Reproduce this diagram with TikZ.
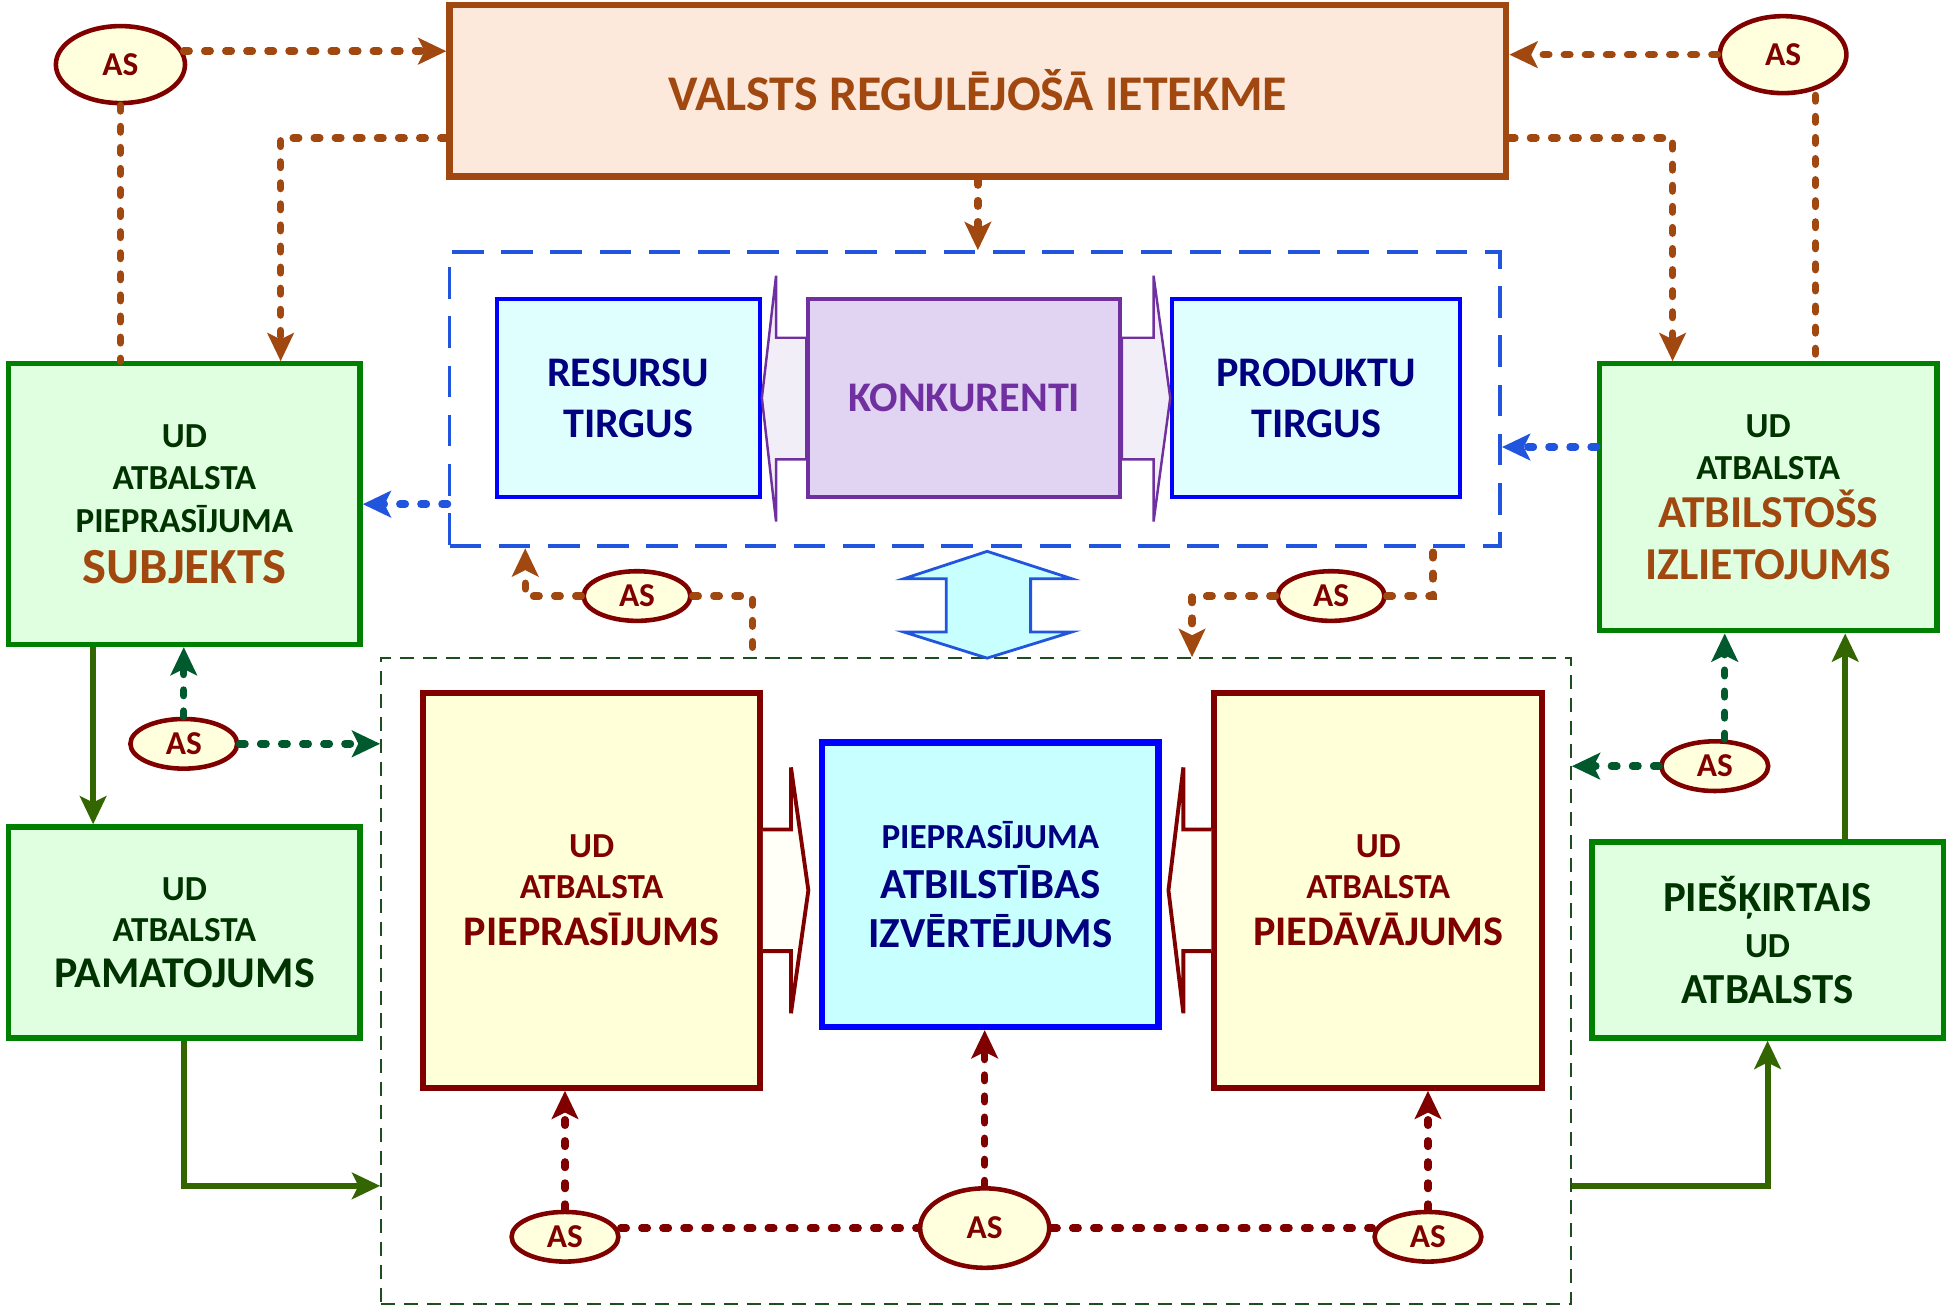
\documentclass[tikz,border=0pt]{standalone}
\usepackage{fontspec}
\setmainfont{Carlito}
\usetikzlibrary{arrows.meta,shapes.geometric}
\newcommand{\pxu}{0.012417cm}
\newcommand{\fsz}[2]{\fontsize{#1}{#2}\selectfont}
\definecolor{brn}{HTML}{A0480F}
\definecolor{peach}{HTML}{FCE9DC}
\definecolor{gbord}{HTML}{008000}
\definecolor{gfill}{HTML}{E0FFE0}
\definecolor{gtext}{HTML}{003300}
\definecolor{dred}{HTML}{800000}
\definecolor{yfill}{HTML}{FFFFD8}
\definecolor{asfill}{HTML}{FFFFDD}
\definecolor{navy}{HTML}{000080}
\definecolor{cfill}{HTML}{DFFFFF}
\definecolor{cfill2}{HTML}{C8FFFF}
\definecolor{purp}{HTML}{7030A0}
\definecolor{pfill}{HTML}{E1D3F2}
\definecolor{pfill2}{HTML}{F2EEF8}
\definecolor{bldash}{HTML}{2255DD}
\definecolor{olv}{HTML}{336600}
\definecolor{dgr}{HTML}{005A2E}
\definecolor{gdash}{HTML}{1E4E1E}

\begin{document}
\begin{tikzpicture}[x=\pxu, y=-\pxu,
  >={Stealth[length=8pt,width=7.5pt,inset=1.8pt]},
  box/.style={draw, rectangle, inner sep=0pt, align=center},
  wh/.style 2 args={minimum width=#1*\pxu, minimum height=#2*\pxu},
  greenbox/.style={box, draw=gbord, fill=gfill, text=gtext, line width=1.5pt},
  yellowbox/.style={box, draw=dred, fill=yfill, text=dred, line width=1.7pt},
  bluebox/.style={box, draw=blue, fill=cfill, text=navy, line width=1.1pt},
  asnode/.style={ellipse, draw=dred, fill=asfill, text=dred, line width=1.3pt, inner sep=0pt, font=\bfseries\fsz{9.5}{11}},
  dotline/.style={line width=2.1pt, line cap=round, dash pattern=on 1.6pt off 4.4pt},
  brdot/.style={dotline, draw=brn},
  bldot/.style={dotline, draw=bldash},
  gdot/.style={dotline, draw=dgr},
  rdot/.style={dotline, draw=dred},
  oline/.style={draw=olv, line width=1.7pt},
]
\useasboundingbox (0,0) rectangle (1568,1054);

% Ietvari
\node[draw=bldash, line width=1.1pt, dash pattern=on 9pt off 5pt, inner sep=0pt, wh={846}{237}] (tframe) at (785,321.5) {};
\node[draw=gdash, line width=0.6pt, dash pattern=on 4pt off 2.5pt, inner sep=0pt, wh={958}{520}] (gframe) at (786,790) {};

% Valsts regulējošā ietekme
\node[box, draw=brn, fill=peach, text=brn, line width=1.8pt, wh={851}{138}, font=\bfseries\fsz{14.2}{16}] (valsts) at (787.5,73) {VALSTS REGULĒJOŠĀ IETEKME};
\node[asnode, wh={104}{62}] (as1) at (97,52) {AS};
\node[asnode, wh={102}{62}] (as2) at (1436,44) {AS};

% Tirgi
\node[bluebox, wh={212}{159}, font=\bfseries\fsz{12}{14.5}] (resursi) at (506,320.5) {RESURSU\\TIRGUS};
\node[box, draw=purp, fill=pfill, text=purp, line width=1.1pt, wh={251}{159}, font=\bfseries\fsz{12}{14}] (konk) at (776.5,320.5) {KONKURENTI};
\node[bluebox, wh={232}{159}, font=\bfseries\fsz{12}{14.5}] (produkti) at (1060,320.5) {PRODUKTU\\TIRGUS};
\draw[draw=purp, fill=pfill2, line width=0.7pt] (resursi.east) -- (625,222) -- (625,272) -- (konk.west |- 0,272)
  -- (konk.west |- 0,370) -- (625,370) -- (625,420) -- cycle;
\draw[draw=purp, fill=pfill2, line width=0.7pt] (produkti.west) -- (929,222) -- (929,272) -- (konk.east |- 0,272)
  -- (konk.east |- 0,370) -- (929,370) -- (929,420) -- cycle;

% Kreisā un labā puse
\node[greenbox, wh={283}{226}, font=\bfseries\fsz{10}{12}] (subj) at (148.5,406)
  {UD\\ATBALSTA\\PIEPRASĪJUMA\\[2.5pt]\color{brn}\fsz{14.4}{14.5}SUBJEKTS};
\node[greenbox, wh={272}{215}, font=\bfseries\fsz{10}{12}] (izliet) at (1424,400.5)
  {UD\\ATBALSTA\\[1.5pt]\color{brn}\fsz{13}{14.8}ATBILSTOŠS\\[3pt]\color{brn}\fsz{13}{14.8}IZLIETOJUMS};
\node[greenbox, wh={283}{170}, font=\bfseries\fsz{10}{11.7}] (pamat) at (148.5,751)
  {UD\\ATBALSTA\\[1.5pt]\fsz{12.5}{13}PAMATOJUMS};
\node[greenbox, wh={283}{158}, font=\bfseries\fsz{12.2}{13.2}] (pieskirt) at (1423.5,757)
  {PIEŠĶIRTAIS\\\fsz{10}{13}UD\\ATBALSTS};

% Pieprasījums un piedāvājums
\node[yellowbox, wh={271}{318}, font=\bfseries\fsz{10}{11.7}] (piepr) at (476.5,717)
  {UD\\ATBALSTA\\[1.5pt]\fsz{12}{13}PIEPRASĪJUMS};
\node[box, draw=blue, fill=cfill2, text=navy, line width=1.8pt, wh={271}{229}, font=\bfseries\fsz{12.2}{14}] (izvert) at (797.5,712.5)
  {\fsz{10}{13}PIEPRASĪJUMA\\ATBILSTĪBAS\\IZVĒRTĒJUMS};
\node[yellowbox, wh={264}{318}, font=\bfseries\fsz{10}{11.7}] (pied) at (1110,717)
  {UD\\ATBALSTA\\[1.5pt]\fsz{12}{13}PIEDĀVĀJUMS};
\draw[draw=dred, fill=white!97!yellow, line width=1.1pt] (piepr.east |- 0,668) -- (637,668) -- (637,618) -- (651,717)
  -- (637,816) -- (637,766) -- (piepr.east |- 0,766);
\draw[draw=dred, fill=white!97!yellow, line width=1.1pt] (pied.west |- 0,668) -- (953,668) -- (953,618) -- (941,717)
  -- (953,816) -- (953,766) -- (pied.west |- 0,766);

% Abpusējā bulta
\draw[draw=bldash, fill=cfill2, line width=0.8pt] (795,444) -- (863,466) -- (830,466) -- (830,509) -- (863,509)
  -- (795,530) -- (728,509) -- (762,509) -- (762,466) -- (728,466) -- cycle;

% AS mezgli
\node[asnode, wh={86}{40}] (asL) at (513,480) {AS};
\node[asnode, wh={86}{40}] (asR) at (1072,480) {AS};
\node[asnode, wh={86}{40}] (asML) at (148,599) {AS};
\node[asnode, wh={86}{40}] (asMR) at (1381,617) {AS};
\node[asnode, wh={86}{40}] (asB1) at (455,996) {AS};
\node[asnode, wh={104}{64}] (asB2) at (793,989) {AS};
\node[asnode, wh={86}{40}] (asB3) at (1150,996) {AS};

% Valsts ietekmes saites
\draw[brdot,->] (as1.12) -- (as1.12 -| valsts.west);
\draw[brdot] (as1.south) -- (as1.south |- subj.north);
\draw[brdot,->] (valsts.west |- 0,111) -| (subj.north -| 226,0);
\draw[brdot,->] (valsts.south) -- (valsts.south |- tframe.north);
\draw[brdot,->] (as2.west) -- (as2.west -| valsts.east);
\draw[brdot] (as2.south -| 1462,0) -- (izliet.north -| 1462,0);
\draw[brdot,->] (valsts.east |- 0,111) -| (izliet.north -| 1347,0);

% Tirgus saites
\draw[bldot,->] (tframe.west |- subj.east) -- (subj.east);
\draw[bldot,->] (izliet.west |- 0,360) -- (tframe.east |- 0,360);
\draw[brdot,->] (asL.west) -| (tframe.south -| 423,0);
\draw[brdot] (asL.east) -| (gframe.north -| 606,0);
\draw[brdot,->] (asR.west) -| (gframe.north -| 960,0);
\draw[brdot] (asR.east) -| (tframe.south -| 1154,0);

% Kreisā kolonna
\draw[oline,->] (subj.south -| 75,0) -- (pamat.north -| 75,0);
\draw[gdot,->] (asML.north) -- (asML.north |- subj.south);
\draw[gdot,->] (asML.east) -- (asML.east -| gframe.west);
\draw[oline,->] (pamat.south) |- (gframe.west |- 0,955);

% Labā kolonna
\draw[oline,->] (pieskirt.north -| 1486,0) -- (izliet.south -| 1486,0);
\draw[gdot,->] (asMR.north -| 1389,0) -- (izliet.south -| 1389,0);
\draw[gdot,->] (asMR.west) -- (asMR.west -| gframe.east);
\draw[oline,->] (gframe.east |- 0,955) -| (pieskirt.south);

% Apakšējie AS
\draw[rdot,->] (asB1.north) -- (asB1.north |- piepr.south);
\draw[rdot,->] (asB2.north) -- (asB2.north |- izvert.south);
\draw[rdot,->] (asB3.north) -- (asB3.north |- pied.south);
\draw[rdot] (asB1.east |- asB2.west) -- (asB2.west);
\draw[rdot] (asB2.east) -- (asB3.west |- asB2.east);
\end{tikzpicture}
\end{document}
